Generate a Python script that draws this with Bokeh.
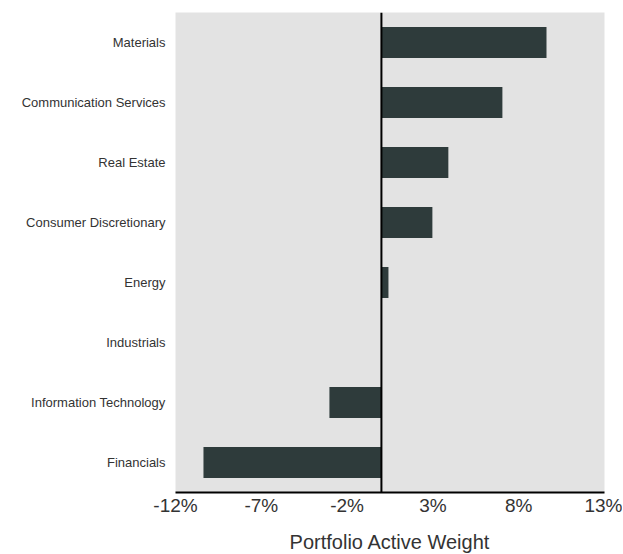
from bokeh.plotting import figure
from bokeh.models import Range1d, FactorRange, FixedTicker, PrintfTickFormatter, Span
from bokeh.embed import file_html
from bokeh.resources import INLINE

sectors = ["Financials", "Information Technology", "Industrials", "Energy",
           "Consumer Discretionary", "Real Estate", "Communication Services", "Materials"]
weights = [-10.37, -3.03, 0.0, 0.41, 2.97, 3.9, 7.05, 9.62]
x_ticks = [-12, -7, -2, 3, 8, 13]

p = figure(y_range=FactorRange(factors=sectors), x_range=Range1d(-12, 13),
           frame_width=429, frame_height=480,
           min_border_left=175, min_border_right=18, min_border_top=12, min_border_bottom=20,
           output_backend="svg", toolbar_location=None)

p.hbar(y=sectors, right=weights, left=0, height=0.52, color="#2e3b3b", line_color=None)

p.add_layout(Span(location=0, dimension="height", line_color="black", line_width=2))

p.background_fill_color = "#e3e3e3"
p.border_fill_color = "white"
p.outline_line_color = None
p.xgrid.visible = False
p.ygrid.visible = False

xa = p.xaxis[0]
xa.ticker = FixedTicker(ticks=x_ticks)
xa.formatter = PrintfTickFormatter(format="%d%%")
xa.axis_line_color = "black"
xa.axis_line_width = 2
xa.major_tick_line_color = None
xa.minor_tick_line_color = None
xa.major_tick_out = 0
xa.major_tick_in = 0
xa.major_label_standoff = 2
xa.major_label_text_font = "Liberation Sans"
xa.major_label_text_font_size = "19px"
xa.major_label_text_color = "#333333"
xa.axis_label = "Portfolio Active Weight"
xa.axis_label_text_font = "Liberation Sans"
xa.axis_label_text_font_size = "20px"
xa.axis_label_text_font_style = "normal"
xa.axis_label_text_color = "#333333"
xa.axis_label_standoff = 12

ya = p.yaxis[0]
ya.axis_line_color = None
ya.major_tick_line_color = None
ya.minor_tick_line_color = None
ya.major_tick_out = 0
ya.major_tick_in = 0
ya.major_label_standoff = 10
ya.major_label_text_font = "Liberation Sans"
ya.major_label_text_font_size = "13px"
ya.major_label_text_color = "#333333"

open("out.html", "w").write(file_html(p, INLINE))
